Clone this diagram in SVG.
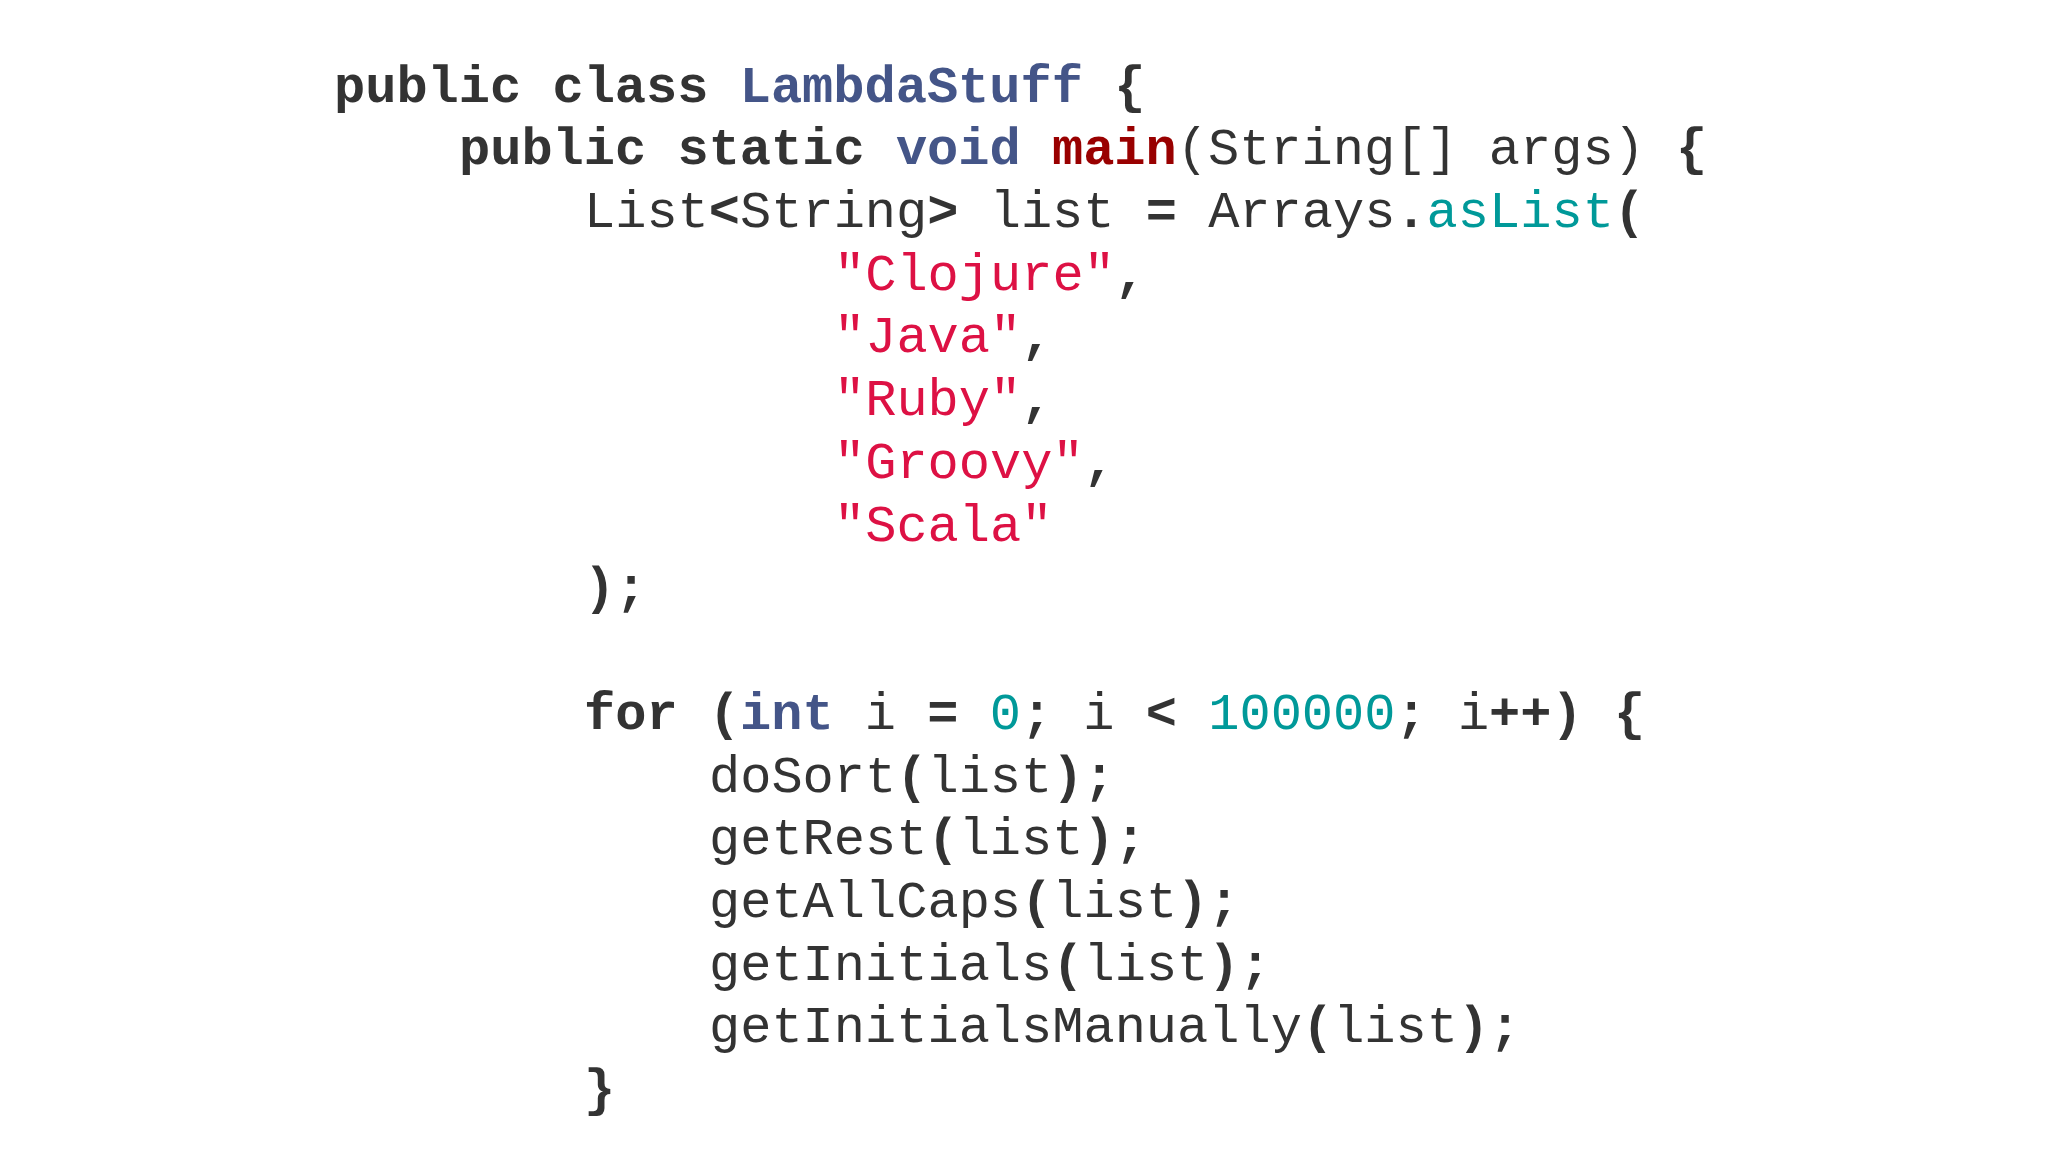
<svg xmlns="http://www.w3.org/2000/svg" width="2048" height="1152" viewBox="0 0 2048 1152">
<style>
text{font-family:"Liberation Mono","Courier New",monospace;font-size:52px;fill:#333;white-space:pre}
.b{font-weight:bold}
.t{fill:#445588;font-weight:bold}
.m{fill:#990000;font-weight:bold}
.s{fill:#dd1144}
.n{fill:#009999}
</style>
<rect width="2048" height="1152" fill="#fff"/>
<g id="code" xml:space="preserve">
<text x="334" y="102"><tspan class="b">public class </tspan><tspan class="t">LambdaStuff</tspan><tspan class="b"> {</tspan></text>
<text x="459" y="164"><tspan class="b">public static </tspan><tspan class="t">void</tspan> <tspan class="m">main</tspan>(String[] args) <tspan class="b">{</tspan></text>
<text x="584" y="227">List<tspan class="b">&lt;</tspan>String<tspan class="b">&gt;</tspan> list <tspan class="b">=</tspan> Arrays<tspan class="b">.</tspan><tspan class="n">asList</tspan><tspan class="b">(</tspan></text>
<text x="834" y="290"><tspan class="s">"Clojure"</tspan><tspan class="b">,</tspan></text>
<text x="834" y="352"><tspan class="s">"Java"</tspan><tspan class="b">,</tspan></text>
<text x="834" y="415"><tspan class="s">"Ruby"</tspan><tspan class="b">,</tspan></text>
<text x="834" y="478"><tspan class="s">"Groovy"</tspan><tspan class="b">,</tspan></text>
<text x="834" y="541"><tspan class="s">"Scala"</tspan></text>
<text x="584" y="603" class="b">);</text>
<text x="584" y="729"><tspan class="b">for (</tspan><tspan class="t">int</tspan> i <tspan class="b">=</tspan> <tspan class="n">0</tspan><tspan class="b">;</tspan> i <tspan class="b">&lt;</tspan> <tspan class="n">100000</tspan><tspan class="b">;</tspan> i<tspan class="b">++) {</tspan></text>
<text x="709" y="792">doSort<tspan class="b">(</tspan>list<tspan class="b">);</tspan></text>
<text x="709" y="854">getRest<tspan class="b">(</tspan>list<tspan class="b">);</tspan></text>
<text x="709" y="917">getAllCaps<tspan class="b">(</tspan>list<tspan class="b">);</tspan></text>
<text x="709" y="980">getInitials<tspan class="b">(</tspan>list<tspan class="b">);</tspan></text>
<text x="709" y="1042">getInitialsManually<tspan class="b">(</tspan>list<tspan class="b">);</tspan></text>
<text x="584" y="1105" class="b">}</text>
</g>
</svg>
